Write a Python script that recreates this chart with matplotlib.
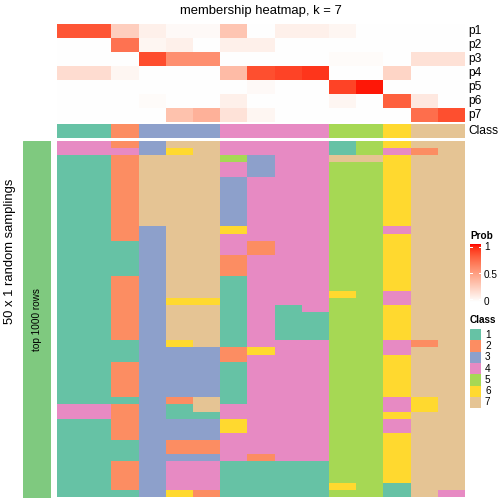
import numpy as np
import matplotlib
matplotlib.use("Agg")
import matplotlib.pyplot as plt
from matplotlib.colors import ListedColormap

plt.rcParams['font.family'] = ['Liberation Sans', 'DejaVu Sans']

# membership probabilities p1..p7 for the 15 samples (columns)
p1 = [0.82, 0.82, 0.25, 0.08, 0.03, 0.03, 0.30, 0.00, 0.08, 0.08, 0.05, 0.00, 0.00, 0.00, 0.00]
p2 = [0.00, 0.00, 0.70, 0.05, 0.08, 0.00, 0.08, 0.08, 0.00, 0.00, 0.00, 0.00, 0.00, 0.00, 0.00]
p3 = [0.00, 0.00, 0.00, 0.85, 0.57, 0.57, 0.00, 0.00, 0.00, 0.00, 0.02, 0.02, 0.00, 0.16, 0.16]
p4 = [0.18, 0.18, 0.05, 0.00, 0.00, 0.00, 0.35, 0.84, 0.88, 0.92, 0.00, 0.00, 0.22, 0.00, 0.00]
p5 = [0.00, 0.00, 0.00, 0.00, 0.00, 0.00, 0.00, 0.03, 0.00, 0.00, 0.88, 0.98, 0.00, 0.00, 0.00]
p6 = [0.00, 0.00, 0.00, 0.02, 0.00, 0.00, 0.08, 0.00, 0.00, 0.00, 0.05, 0.00, 0.78, 0.12, 0.00]
p7 = [0.00, 0.00, 0.00, 0.00, 0.32, 0.40, 0.15, 0.05, 0.00, 0.00, 0.00, 0.00, 0.00, 0.72, 0.84]
sample_class = [1, 1, 2, 3, 3, 3, 4, 4, 4, 4, 5, 5, 6, 7, 7]

# class of each sample in each of the 50 random samplings (one string per column, top to bottom)
sampling_cols = [
    "4411111111" "1111111111" "1111111111" "1111111441" "1111111111",
    "4411111111" "1111111111" "1111111111" "1111111441" "1111111111",
    "2422222222" "2222111112" "2222222211" "1222221222" "2211122221",
    "3377777777" "7733333333" "3333333333" "3333333333" "3333333333",
    "7677777777" "7777777777" "7767777763" "3333332113" "3322344446",
    "7777777777" "7777777777" "7767777773" "3333337713" "3322344442",
    "4454433333" "3364442221" "1111111112" "2111111446" "6444411111",
    "4433344444" "4444224444" "4444444446" "4444444444" "4444211111",
    "4444444444" "4444444444" "4441111144" "4444444444" "4444411111",
    "4444444444" "4444444444" "4444111144" "4444444444" "4444411111",
    "1175555555" "5555555555" "5655555555" "5555555555" "5555555565",
    "5575555555" "5555555555" "5555555555" "5555555555" "5555555555",
    "6466666666" "6646666666" "6446666644" "6666664464" "4666666611",
    "7277777777" "7777777777" "7777777727" "7777776677" "7777777777",
    "7777777777" "7777777777" "7777777777" "7777777777" "7777777774",
]

class_labels = ["1", "2", "3", "4", "5", "6", "7"]
class_colors = ["#66C2A5", "#FC8D62", "#8DA0CB", "#E78AC3", "#A6D854", "#FFD92F", "#E5C494"]
prob_names = ["p1", "p2", "p3", "p4", "p5", "p6", "p7"]


# white -> red interpolated in LAB space
def to_lab(c):
    c = np.asarray(c, float)
    lin = np.where(c <= 0.04045, c / 12.92, ((c + 0.055) / 1.055) ** 2.4)
    M = np.array([[0.4124, 0.3576, 0.1805], [0.2126, 0.7152, 0.0722], [0.0193, 0.1192, 0.9505]])
    xyz = M @ lin / np.array([0.95047, 1.0, 1.08883])
    f = np.where(xyz > 0.008856, np.cbrt(xyz), 7.787 * xyz + 16 / 116)
    return np.array([116 * f[1] - 16, 500 * (f[0] - f[1]), 200 * (f[1] - f[2])])


def from_lab(lab):
    L, a, b = lab
    fy = (L + 16) / 116
    fx = fy + a / 500
    fz = fy - b / 200
    f = np.array([fx, fy, fz])
    xyz = np.where(f ** 3 > 0.008856, f ** 3, (f - 16 / 116) / 7.787) * np.array([0.95047, 1.0, 1.08883])
    Mi = np.array([[3.2406, -1.5372, -0.4986], [-0.9689, 1.8758, 0.0415], [0.0557, -0.2040, 1.0570]])
    lin = Mi @ xyz
    lin = np.clip(lin, 0, 1)
    c = np.where(lin <= 0.0031308, 12.92 * lin, 1.055 * lin ** (1 / 2.4) - 0.055)
    return np.clip(c, 0, 1)


lw, lr = to_lab([1, 1, 1]), to_lab([1, 0, 0])
prob_cmap = ListedColormap([from_lab(lw + (lr - lw) * t) for t in np.linspace(0, 1, 256)])
class_cmap = ListedColormap(class_colors)

W = H = 504
fig = plt.figure(figsize=(7, 7), dpi=72)


def ax_px(x0, y0, x1, y1):
    ax = fig.add_axes([x0 / W, 1 - y1 / H, (x1 - x0) / W, (y1 - y0) / H])
    ax.set_axis_off()
    return ax


x0, x1 = 57, 465

# probability rows
prob = np.array([p1, p2, p3, p4, p5, p6, p7])
ax = ax_px(x0, 24, x1, 122)
ax.imshow(prob, cmap=prob_cmap, vmin=0, vmax=1, aspect='auto', interpolation='nearest')
for i, name in enumerate(prob_names):
    fig.text(468 / W, 1 - (31 + 14 * i) / H, name, fontsize=12, va='center', ha='left')

# class row
ax = ax_px(x0, 124, x1, 138)
ax.imshow([sample_class], cmap=class_cmap, vmin=0.5, vmax=7.5, aspect='auto', interpolation='nearest')
fig.text(468 / W, 1 - 131 / H, "Class", fontsize=12, va='center', ha='left')

# main heatmap
mat = np.array([[int(ch) for ch in s] for s in sampling_cols]).T
ax = ax_px(x0, 141, x1, 497)
ax.imshow(mat, cmap=class_cmap, vmin=0.5, vmax=7.5, aspect='auto', interpolation='nearest')

# left annotation
ax = ax_px(23, 141, 51, 498)
ax.add_patch(plt.Rectangle((0, 0), 1, 1, color="#7FC97F", transform=ax.transAxes))
ax.text(0.5, 0.5, "top 1000 rows", rotation=90, ha='center', va='center', fontsize=10, transform=ax.transAxes)
fig.text(10 / W, 1 - 251 / H, "50 x 1 random samplings", rotation=90, ha='center', va='center', fontsize=13)

fig.text(261 / W, 1 - 11 / H, "membership heatmap, k = 7", ha='center', va='center', fontsize=13)

# Prob legend
fig.text(470 / W, 1 - 236 / H, "Prob", fontsize=10, fontweight='bold', ha='left', va='center')
cax = ax_px(470, 244, 481, 302)
cax.imshow(np.linspace(1, 0, 100)[:, None], cmap=prob_cmap, vmin=0, vmax=1, aspect='auto',
           extent=[0, 1, -0.05, 1.0])
cax.set_xlim(0, 1)
cax.set_ylim(-0.05, 1.0)
for v, lab in [(0.95, "1"), (0.475, "0.5"), (0.0, "0")]:
    cax.plot([0, 0.2], [v, v], color='white', lw=1)
    cax.plot([0.8, 1], [v, v], color='white', lw=1)
    fig.text(484 / W, 1 - (247 + (0.95 - v) / 0.95 * 55) / H, lab, fontsize=10, ha='left', va='center')

# Class legend
fig.text(470 / W, 1 - 320 / H, "Class", fontsize=10, fontweight='bold', ha='left', va='center')
for i, (lab, col) in enumerate(zip(class_labels, class_colors)):
    top = 329 + 11.3 * i
    lax = ax_px(470, top, 481, top + 11.3)
    lax.add_patch(plt.Rectangle((0, 0), 1, 1, color=col, transform=lax.transAxes))
    fig.text(485 / W, 1 - (top + 5.6) / H, lab, fontsize=10, ha='left', va='center')

fig.savefig("out.png", dpi=72)
